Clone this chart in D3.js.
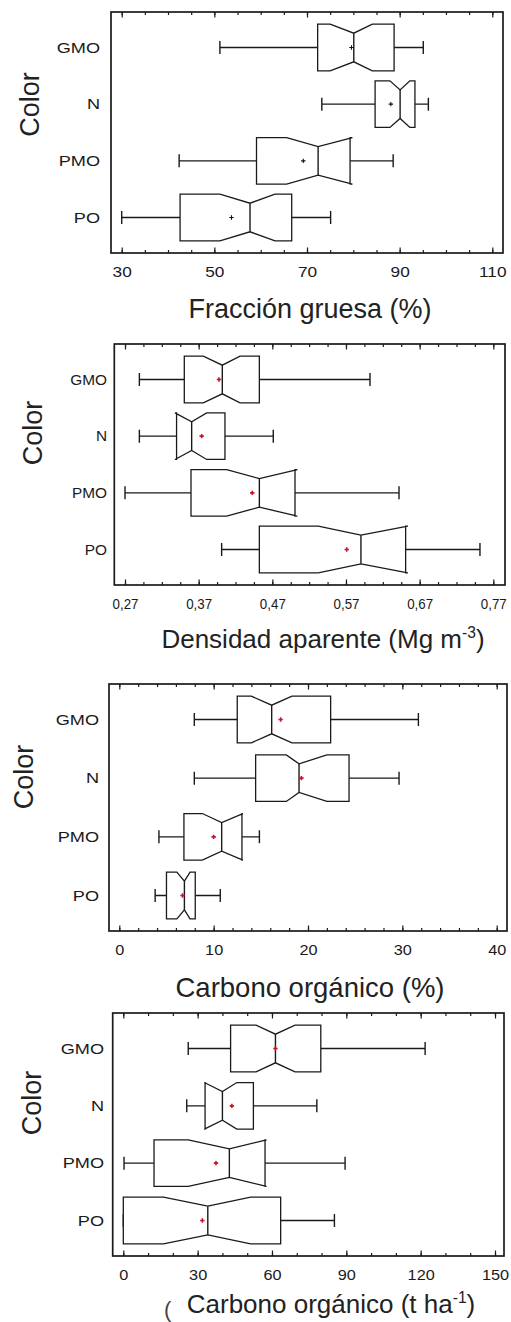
<!DOCTYPE html>
<html>
<head>
<meta charset="utf-8">
<script src="https://cdn.jsdelivr.net/npm/d3@7"></script>
<style>
  body { margin: 0; background: #fff; }
  svg { display: block; font-family: 'Liberation Sans', Arial, sans-serif; }
  .frame { fill: none; stroke: #1a1a1a; stroke-width: 1.7; }
  .box { fill: #fff; stroke: #1a1a1a; stroke-width: 1.3; }
  .whisker { stroke: #1a1a1a; stroke-width: 1.4; }
  .tick line { stroke: #1a1a1a; stroke-width: 1.2; }
  .tick text { fill: #1a1a1a; }
</style>
</head>
<body>
<div id="chart"></div>
<script>
'use strict'

// categories, top to bottom
const categories = ['GMO', 'N', 'PMO', 'PO']

// box stats: min, q1, notch low, median, notch high, q3, max, mean
const fraccionGruesa = [
  {min: 51.2, q1: 72.3, nlo: 75.0, med: 80.1, nhi: 84.1, q3: 88.8, max: 95.1, mean: 79.6},
  {min: 73.2, q1: 84.7, nlo: 87.9, med: 90.1, nhi: 92.2, q3: 93.3, max: 96.2, mean: 88.1},
  {min: 42.4, q1: 59.1, nlo: 65.6, med: 72.4, nhi: 79.8, q3: 79.3, max: 88.6, mean: 69.2},
  {min: 30.0, q1: 42.6, nlo: 51.2, med: 57.7, nhi: 63.1, q3: 66.7, max: 75.1, mean: 53.7}
]
const densidadAparente = [
  {min: 0.2895, q1: 0.3505, nlo: 0.3763, med: 0.4021, nhi: 0.4261, q3: 0.4524, max: 0.6026, mean: 0.3976},
  {min: 0.2895, q1: 0.3400, nlo: 0.3379, med: 0.3605, nhi: 0.3809, q3: 0.4057, max: 0.4713, mean: 0.3741},
  {min: 0.2700, q1: 0.3596, nlo: 0.4080, med: 0.4524, nhi: 0.5040, q3: 0.5008, max: 0.6420, mean: 0.4428},
  {min: 0.4012, q1: 0.4524, nlo: 0.5324, med: 0.5903, nhi: 0.6540, q3: 0.6510, max: 0.7519, mean: 0.5710}
]
const carbonoPct = [
  {min: 7.95, q1: 12.5, nlo: 14.0, med: 16.15, nhi: 18.3, q3: 22.4, max: 31.7, mean: 17.1},
  {min: 7.95, q1: 14.45, nlo: 17.7, med: 19.05, nhi: 22.0, q3: 24.35, max: 29.65, mean: 19.3},
  {min: 4.2, q1: 6.85, nlo: 8.8, med: 10.85, nhi: 13.1, q3: 13.0, max: 14.85, mean: 10.0},
  {min: 3.8, q1: 5.0, nlo: 6.1, med: 6.9, nhi: 7.5, q3: 8.05, max: 10.7, mean: 6.7}
]
const carbonoTha = [
  {min: 26.2, q1: 43.3, nlo: 53.6, med: 61.4, nhi: 69.3, q3: 79.7, max: 121.8, mean: 61.4},
  {min: 25.6, q1: 33.0, nlo: 32.7, med: 40.0, nhi: 45.8, q3: 52.5, max: 78.1, mean: 43.8},
  {min: 0.3, q1: 12.4, nlo: 26.2, med: 42.8, nhi: 57.8, q3: 57.2, max: 89.5, mean: 37.4},
  {min: 0.0, q1: 0.0, nlo: 16.2, med: 34.1, nhi: 51.4, q3: 63.5, max: 85.2, mean: 31.9}
]

// axis tick labels
const fraccionTicks = [30, 50, 70, 90, 110]
const densidadTicks = [0.27, 0.37, 0.47, 0.57, 0.67, 0.77]
const carbonoPctTicks = [0, 10, 20, 30, 40]
const carbonoThaTicks = [0, 30, 60, 90, 120, 150]

const width = 511
const height = 1322

const svg = d3.select('#chart').append('svg')
  .attr('width', width)
  .attr('height', height)

const panels = [
  {data: fraccionGruesa, ticks: fraccionTicks, minorStep: 5, fmt: d3.format('d'),
   dom: [30, 110], rng: [121.7, 492.3], frame: [111, 12, 503, 253],
   tickFs: 15, tickSx: 1.15, catFs: 14.5, catSx: 1.25, catX: 100,
   colorX: 29, colorY: 104.5, title: 'Fracción gruesa (%)', titleX: 310, titleY: 318, titleFs: 27,
   meanColor: '#111'},
  {data: densidadAparente, ticks: densidadTicks, minorStep: 0.025, fmt: d => d3.format('.2f')(d).replace('.', ','),
   dom: [0.27, 0.77], rng: [125, 493.3], frame: [114.3, 344, 505, 585],
   tickFs: 14.5, tickSx: 0.92, catFs: 14, catSx: 1.1, catX: 107,
   colorX: 32, colorY: 433, title: 'Densidad aparente (Mg m', sup: '-3', titleX: 323, titleY: 648, titleFs: 26,
   meanColor: '#d0102a'},
  {data: carbonoPct, ticks: carbonoPctTicks, minorStep: 2, fmt: d3.format('d'),
   dom: [0, 40], rng: [119.3, 496.7], frame: [109, 684, 507, 931],
   tickFs: 15.5, tickSx: 1.05, catFs: 14.5, catSx: 1.25, catX: 99,
   colorX: 23, colorY: 777, title: 'Carbono orgánico (%)', titleX: 310, titleY: 997, titleFs: 27.5,
   meanColor: '#d0102a'},
  {data: carbonoTha, ticks: carbonoThaTicks, minorStep: 10, fmt: d3.format('d'),
   dom: [0, 150], rng: [123.3, 495], frame: [112.7, 1013, 504, 1256],
   tickFs: 15.5, tickSx: 1.05, catFs: 14.5, catSx: 1.25, catX: 104,
   colorX: 31, colorY: 1103, title: 'Carbono orgánico (t ha', sup: '-1', titleX: 331, titleY: 1313, titleFs: 26,
   meanColor: '#d0102a', stray: true}
]

const boxHalf = 23.3
const notchIn = 9
const capHalf = 6.5

panels.forEach(cfg => drawPanel(cfg))

function drawPanel(cfg) {
  let [fx0, fy0, fx1, fy1] = cfg.frame
  let g = svg.append('g')

  let x = d3.scaleLinear().domain(cfg.dom).range(cfg.rng)
  let y = d3.scalePoint().domain(categories).range([fy0 + 35.5, fy1 - 35.5])

  let minor = d3.range(cfg.dom[0], cfg.dom[1] + cfg.minorStep / 2, cfg.minorStep)

  // ticks, pointing inward on top and bottom
  let axes = [
    {ax: d3.axisBottom(x), at: fy1, vals: minor, size: -3, lab: false},
    {ax: d3.axisBottom(x), at: fy1, vals: cfg.ticks, size: -5.5, lab: true},
    {ax: d3.axisTop(x), at: fy0, vals: minor, size: -3, lab: false},
    {ax: d3.axisTop(x), at: fy0, vals: cfg.ticks, size: -5.5, lab: false}
  ]
  axes.forEach(a => {
    let ag = g.append('g')
      .attr('transform', `translate(0, ${a.at})`)
      .call(a.ax.tickValues(a.vals).tickSize(a.size).tickFormat(a.lab ? cfg.fmt : ''))
    ag.select('.domain').remove()
    if (a.lab) {
      ag.selectAll('text')
        .attr('y', 24).attr('dy', null)
        .attr('font-size', cfg.tickFs)
        .attr('font-family', "'Liberation Sans', Arial, sans-serif")
        .attr('transform', `scale(${cfg.tickSx}, 1)`)
    } else {
      ag.selectAll('text').remove()
    }
  })

  g.append('rect').attr('class', 'frame')
    .attr('x', fx0).attr('y', fy0)
    .attr('width', fx1 - fx0).attr('height', fy1 - fy0)

  let rows = g.selectAll('g.row').data(cfg.data)
    .enter().append('g').attr('class', 'row')
    .attr('transform', (d, i) => `translate(0, ${y(categories[i])})`)

  // whiskers
  rows.append('path').attr('class', 'whisker')
    .attr('d', d => `M${x(d.min)},0H${x(d.q1)}M${x(d.q3)},0H${x(d.max)}` +
      `M${x(d.min)},${-capHalf}V${capHalf}M${x(d.max)},${-capHalf}V${capHalf}`)

  // notched box
  rows.append('path').attr('class', 'box')
    .attr('d', d => {
      let t = -boxHalf, b = boxHalf
      let pts = [
        [x(d.q1), t], [x(d.nlo), t], [x(d.med), t + notchIn], [x(d.nhi), t], [x(d.q3), t],
        [x(d.q3), b], [x(d.nhi), b], [x(d.med), b - notchIn], [x(d.nlo), b], [x(d.q1), b]
      ]
      return 'M' + pts.map(p => p.join(',')).join('L') + 'Z'
    })

  // median line
  rows.append('path').attr('class', 'whisker')
    .attr('d', d => `M${x(d.med)},${-boxHalf + notchIn}V${boxHalf - notchIn}`)

  // mean marker
  rows.append('path')
    .attr('d', d => `M${x(d.mean) - 2.2},0H${x(d.mean) + 2.2}M${x(d.mean)},-2.2V2.2`)
    .attr('stroke', cfg.meanColor)
    .attr('stroke-width', cfg.meanColor === '#111' ? 1.1 : 1.6)

  // category labels
  rows.append('text')
    .attr('transform', `translate(${cfg.catX}, 0) scale(${cfg.catSx}, 1)`)
    .attr('text-anchor', 'end')
    .attr('dy', '0.36em')
    .attr('font-size', cfg.catFs)
    .attr('fill', '#1a1a1a')
    .text((d, i) => categories[i])

  g.append('text')
    .attr('transform', `translate(${cfg.colorX}, ${cfg.colorY}) rotate(-90)`)
    .attr('text-anchor', 'middle')
    .attr('dy', '0.36em')
    .attr('font-size', 27)
    .attr('fill', '#222')
    .text('Color')

  let title = g.append('text')
    .attr('x', cfg.titleX).attr('y', cfg.titleY)
    .attr('text-anchor', 'middle')
    .attr('font-size', cfg.titleFs)
    .attr('fill', '#222')
    .text(cfg.title)
  if (cfg.sup) {
    title.append('tspan').attr('dy', -10).attr('font-size', cfg.titleFs * 0.6).text(cfg.sup)
    title.append('tspan').attr('dy', 10).text(')')
  }

  if (cfg.stray) {
    g.append('text')
      .attr('x', 164).attr('y', 1317)
      .attr('font-size', 22)
      .attr('fill', '#444')
      .text('(')
  }
}
</script>
</body>
</html>
